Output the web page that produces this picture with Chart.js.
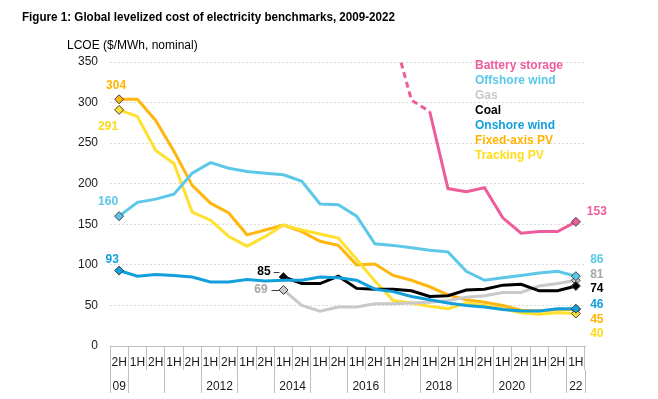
<!DOCTYPE html>
<html><head><meta charset="utf-8">
<script src="https://cdn.jsdelivr.net/npm/chart.js@4"></script>
<style>
html,body{margin:0;padding:0;background:#fff;}
#wrap{position:relative;width:658px;height:399px;overflow:hidden;}
#title{position:absolute;left:22px;top:11px;font-weight:bold;font-family:"Liberation Sans",Arial,sans-serif;font-size:12.5px;line-height:1;white-space:nowrap;color:#000;transform-origin:0 50%;}
#ylab{position:absolute;left:67px;top:38px;font:12px "Liberation Sans",Arial,sans-serif;line-height:14px;color:#000;white-space:nowrap}
canvas{position:absolute;left:0;top:0}
</style></head><body>
<div id="wrap"><canvas id="c" width="658" height="399"></canvas>
<div id="title">Figure 1: Global levelized cost of electricity benchmarks, 2009-2022</div>
<div id="ylab">LCOE ($/MWh, nominal)</div></div>
<script>
// ---- data ----
const categories = ['2H 2009','1H 2010','2H 2010','1H 2011','2H 2011','1H 2012','2H 2012','1H 2013','2H 2013','1H 2014','2H 2014','1H 2015','2H 2015','1H 2016','2H 2016','1H 2017','2H 2017','1H 2018','2H 2018','1H 2019','2H 2019','1H 2020','2H 2020','1H 2021','2H 2021','1H 2022'];
const yearTickLabels = [[2009,'09'],[2012,'2012'],[2014,'2014'],[2016,'2016'],[2018,'2018'],[2020,'2020'],[2022,'22']];
const seriesNames = ['Battery storage','Offshore wind','Gas','Coal','Onshore wind','Fixed-axis PV','Tracking PV'];
const battery   = [null,null,null,null,null,null,null,null,null,null,null,null,null,null,null,385,303,289,194,190,195,158,139,141,141,153];
const offshore  = [160,177,181,187,213,226,219,215,213,211,203,175,174,160,126,124,121,118,116,92,81,84,87,90,92,86];
const gas       = [null,null,null,null,null,null,null,null,null,69,50,43,48,48,52,52,53,54,56,60,62,66,66,74,77,81];
const coal      = [null,null,null,null,null,null,null,null,null,85,77,77,86,71,70,70,68,61,62,69,70,75,76,68,68,74];
const onshore   = [93,86,88,87,85,79,79,82,80,81,81,85,84,81,70,67,61,57,53,50,48,45,43,43,46,46];
const fixedPV   = [304,304,278,240,198,176,164,137,143,149,141,129,124,100,101,87,81,73,63,57,54,50,44,43,45,45];
const trackingPV= [291,283,241,225,165,155,135,123,135,149,143,138,133,107,80,56,53,49,46,53,50,46,41,39,41,40];
const dashedUntil = 17; // battery estimates shown dashed up to 1H 2018
const seriesData = [battery,offshore,gas,coal,onshore,fixedPV,trackingPV];

// ---- styles ----
const FONT = '"Liberation Sans", Arial, sans-serif';
const lineColors = ['#EE5C9C','#5CC8E8','#C9C9C9','#000000','#139FDC','#FFB60F','#FFE02E'];
const legendColors = ['#EE5C9C','#5CC8E8','#C8C8C8','#000000','#139FDC','#FFB400','#FFDD1A'];
const labelColors = ['#EE5C9C','#5CC8E8','#A6A6A6','#000000','#139FDC','#FFB400','#FFD91A'];
const drawOrder = [1,3,5,4,2,7,6];
const startStyle = [null,
  {dx:-11,dy:-14,align:'center'},
  {dx:-16,dy:0,align:'right',leader:[-12,-4]},
  {dx:-13,dy:-5,align:'right',leader:[-10,-4]},
  {dx:-7,dy:-11,align:'center'},
  {dx:-3,dy:-14,align:'center'},
  {dx:-11,dy:17,align:'center'}];
const endDy = [-10,-17,-6,3,-4,10,20.5];

const halfLabels = categories.map(c=>c.split(' ')[0]);
const yearOf = categories.map(c=>+c.split(' ')[1]);
const n = categories.length;
const yearEdges = [-0.5];
for (let i=1;i<n;i++) if (yearOf[i]!==yearOf[i-1]) yearEdges.push(i-0.5);
yearEdges.push(n-0.5);
const yearCenterText = new Map();
yearTickLabels.forEach(([yr,txt])=>{
  const idx = yearOf.map((y,i)=>y===yr?i:-1).filter(i=>i>=0);
  const c = idx.reduce((a,b)=>a+b,0)/idx.length;
  yearCenterText.set(c, txt);
});
const edgeSet = new Set(yearEdges);

function firstIdx(arr){return arr.findIndex(v=>v!==null);}

const datasets = seriesData.map((arr,k)=>{
  const f = firstIdx(arr), l = arr.length-1;
  return {
    label: seriesNames[k], data: arr, borderColor: lineColors[k], backgroundColor: lineColors[k],
    borderWidth: 3, tension: 0, order: drawOrder[k], spanGaps:false,
    pointStyle:'rectRot',
    pointRadius: ctx => (ctx.dataIndex===l || (ctx.dataIndex===f && startStyle[k])) ? 4.5 : 0,
    pointBorderColor:'#404040', pointBorderWidth:1, pointBackgroundColor: lineColors[k],
    segment: k===0 ? {borderDash: ctx => ctx.p1DataIndex <= dashedUntil ? [6,4] : undefined} : undefined
  };
});

const annotate = {
  id:'annotate',
  afterDatasetsDraw(chart){
    const ctx = chart.ctx, ca = chart.chartArea;
    ctx.save();
    ctx.font = 'bold 12px ' + FONT;
    ctx.textBaseline = 'middle';
    // legend
    ctx.textAlign = 'left';
    seriesNames.forEach((nm,k)=>{
      ctx.fillStyle = legendColors[k];
      ctx.fillText(nm, ca.right - 110, ca.top + 3.5 + k*15.1);
    });
    seriesData.forEach((arr,k)=>{
      const meta = chart.getDatasetMeta(k);
      const f = firstIdx(arr), l = arr.length-1;
      const st = startStyle[k];
      ctx.fillStyle = labelColors[k];
      if (st){
        const p = meta.data[f];
        ctx.textAlign = st.align;
        ctx.fillText(String(arr[f]), p.x + st.dx, p.y + st.dy);
        if (st.leader){
          ctx.strokeStyle = '#404040'; ctx.lineWidth = 1;
          ctx.beginPath();
          ctx.moveTo(p.x + st.leader[0], Math.round(p.y + st.dy)+0.5);
          ctx.lineTo(p.x + st.leader[1], Math.round(p.y + st.dy)+0.5);
          ctx.stroke();
        }
      }
      const q = meta.data[l];
      ctx.textAlign = 'center';
      ctx.fillText(String(arr[l]), q.x + 21, q.y + endDy[k]);
    });
    ctx.restore();
  }
};

new Chart(document.getElementById('c'), {
  type:'line',
  data:{labels: halfLabels, datasets},
  plugins:[annotate],
  options:{
    responsive:false, animation:false, devicePixelRatio:1,
    layout:{padding:{left:0,right:73,top:62,bottom:6}},
    plugins:{legend:{display:false}, tooltip:{enabled:false}},
    scales:{
      y:{min:0,max:350, afterFit(s){s.width=110;},
        border:{display:false, dash:[2,2]},
        grid:{drawTicks:false, color: c => c.tick && c.tick.value===0 ? 'rgba(0,0,0,0)' : '#dcdcdc'},
        ticks:{stepSize:50, padding:12, color:'#1a1a1a', font:{family:FONT,size:12}}},
      x:{type:'category', weight:0, offset:true,
        afterFit(s){s.height=24;},
        border:{color:'#bfbfbf'},
        grid:{offset:true, drawOnChartArea:false, tickLength:24, color:'#bfbfbf'},
        ticks:{padding:-15, maxRotation:0, autoSkip:false, color:'#1a1a1a', font:{family:FONT,size:12}}},
      x2:{type:'linear', position:'bottom', weight:1, min:-0.5, max:n-0.5,
        afterFit(s){s.height=23;},
        afterBuildTicks(s){
          const vals = [...yearEdges, ...yearCenterText.keys()].sort((a,b)=>a-b);
          s.ticks = vals.map(v=>({value:v}));
        },
        border:{display:false},
        grid:{drawOnChartArea:false, tickLength:23, color: c => (c.tick && edgeSet.has(c.tick.value)) ? '#bfbfbf' : 'rgba(0,0,0,0)'},
        ticks:{padding:-14, maxRotation:0, autoSkip:false, color:'#1a1a1a', font:{family:FONT,size:12},
          callback: v => yearCenterText.has(v) ? yearCenterText.get(v) : ''}}
    }
  }
});

// fit title width to the reference by horizontal compression
const t = document.getElementById('title');
const w = t.getBoundingClientRect().width;
t.style.transform = 'scaleX(' + (373/w) + ')';
</script>
</body></html>
